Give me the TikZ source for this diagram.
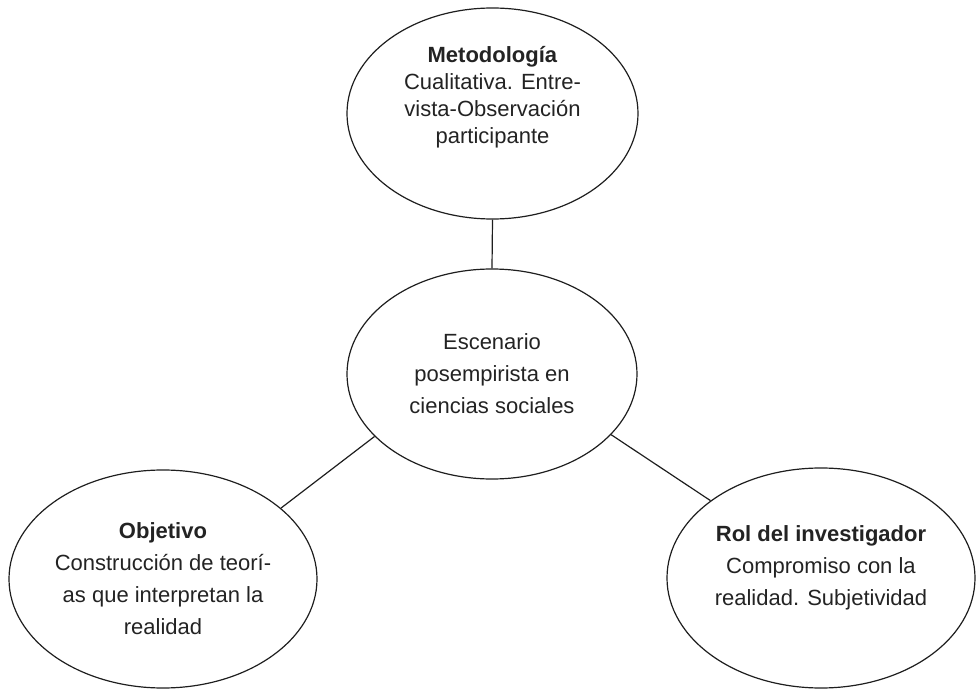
\documentclass[tikz,border=0pt]{standalone}
\usepackage{fontspec}
\setmainfont{Liberation Sans}
\usetikzlibrary{shapes.geometric}
\definecolor{linegray}{RGB}{30,30,30}
\definecolor{textgray}{RGB}{35,35,35}

\begin{document}
\begin{tikzpicture}[x=0.5pt, y=-0.5pt,
  every node/.style={font=\fontsize{11}{16}\selectfont, text=textgray},
  bubble/.style={ellipse, draw=linegray, line width=0.6pt, inner sep=0pt, align=center}]
 \useasboundingbox (0,0) rectangle (976,690);
 \node[bubble, minimum width=145.5pt, minimum height=105.5pt, text depth=19pt,
       font=\fontsize{11}{13.5}\selectfont] (met) at (492.5,113.5)
   {\textbf{Metodología}\\Cualitativa. Entre-\\vista-Observación\\participante};
 \node[bubble, minimum width=145pt, minimum height=105pt] (esc) at (492,374)
   {Escenario\\posempirista en\\ciencias sociales};
 \node[bubble, minimum width=154pt, minimum height=109pt] (obj) at (163,579)
   {\textbf{Objetivo}\\Construcción de teorí-\\as que interpretan la\\realidad};
 \node[bubble, minimum width=154pt, minimum height=110pt, text depth=12pt] (rol) at (821,578)
   {\textbf{Rol del investigador}\\Compromiso con la\\realidad. Subjetividad};
 \draw[linegray, line width=0.6pt] (met.south) -- (esc.north);
 \draw[linegray, line width=0.6pt] (esc.208.9) -- (obj.31);
 \draw[linegray, line width=0.6pt] (esc.333.6) -- (rol.145.4);
\end{tikzpicture}
\end{document}
